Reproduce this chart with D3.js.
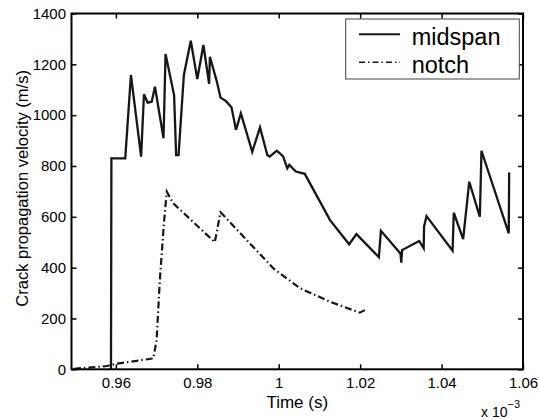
<!DOCTYPE html>
<html>
<head>
<meta charset="utf-8">
<script src="https://cdn.jsdelivr.net/npm/d3@7"></script>
<style>
  html, body { margin: 0; padding: 0; background: #fff; }
  svg { display: block; font-family: "Liberation Sans", Arial, Helvetica, sans-serif; }
</style>
</head>
<body>
<svg id="chart" width="539" height="419"></svg>
<script>
// Time values in units of 1e-3 s
const midspanTime = [0.9588,0.9589,0.9623,0.9637,0.9662,0.9669,0.9678,0.9688,0.9696,0.9717,0.9722,0.9743,0.9748,0.9754,0.9767,0.9784,0.9800,0.9815,0.9829,0.9831,0.9848,0.9857,0.9870,0.9884,0.9895,0.9907,0.9935,0.9954,0.9972,0.9978,0.9995,1.0003,1.0011,1.0021,1.0026,1.0042,1.0064,1.0126,1.0173,1.0191,1.0246,1.0251,1.0299,1.0301,1.0303,1.0345,1.0356,1.0357,1.0363,1.0427,1.0430,1.0453,1.0468,1.0494,1.0498,1.0565,1.0566];
const midspanVel  = [0,830,830,1158,837,1082,1049,1053,1112,909,1241,1079,843,843,1158,1293,1142,1276,1123,1230,1132,1069,1056,1031,942,1007,856,952,843,837,860,850,837,791,804,778,769,587,492,532,441,545,456,420,469,505,476,561,603,467,616,512,738,600,860,535,774];
const notchTime = [0.9497,0.9578,0.9598,0.9692,0.9700,0.9708,0.9718,0.9725,0.9741,0.9843,0.9857,0.9987,1.0052,1.0126,1.0199,1.0212];
const notchVel  = [2,13,21,43,115,351,575,699,653,500,618,397,319,266,223,233];
const xTicks = [0.96,0.98,1.00,1.02,1.04,1.06];
const xTickLabels = ["0.96","0.98","1","1.02","1.04","1.06"];
const yTicks = [0,200,400,600,800,1000,1200,1400];
const seriesNames = ["midspan","notch"];

const L = 71.5, R = 523, T = 13.5, B = 369.3;
const svg = d3.select("#chart");
const x = d3.scaleLinear().domain([0.9491, 1.06]).range([L, R]);
const y = d3.scaleLinear().domain([0, 1400]).range([B, T]);
const ink = "#161616";

const line = d3.line().x(d => x(d[0])).y(d => y(d[1]));
const midData = midspanTime.map((t, i) => [t, midspanVel[i]]);
const notchData = notchTime.map((t, i) => [t, notchVel[i]]);

svg.append("path").datum(notchData).attr("d", line)
  .attr("fill", "none").attr("stroke", ink).attr("stroke-width", 2.2)
  .attr("stroke-dasharray", "7,3,1.5,3");
svg.append("path").datum(midData).attr("d", line)
  .attr("fill", "none").attr("stroke", ink).attr("stroke-width", 2.3)
  .attr("stroke-linejoin", "miter");

// axes
function styleAxis(g) {
  g.select(".domain").remove();
  g.selectAll(".tick line").attr("stroke", "#000").attr("stroke-width", 1.5);
  g.selectAll("text").attr("fill", "#000").style("font-size", "15px");
}
svg.append("g").attr("transform", `translate(0,${B})`)
  .call(d3.axisBottom(x).tickValues(xTicks).tickFormat((d, i) => xTickLabels[i]).tickSize(-5).tickPadding(8))
  .call(styleAxis);
svg.append("g").attr("transform", `translate(0,${T})`)
  .call(d3.axisTop(x).tickValues(xTicks).tickFormat("").tickSize(-5))
  .call(styleAxis);
svg.append("g").attr("transform", `translate(${L},0)`)
  .call(d3.axisLeft(y).tickValues(yTicks).tickFormat(d3.format("d")).tickSize(-5).tickPadding(5.5))
  .call(styleAxis);
svg.append("g").attr("transform", `translate(${R},0)`)
  .call(d3.axisRight(y).tickValues(yTicks).tickFormat("").tickSize(-5))
  .call(styleAxis);

svg.append("rect").attr("x", L).attr("y", T).attr("width", R - L).attr("height", B - T)
  .attr("fill", "none").attr("stroke", "#000").attr("stroke-width", 2);

// labels
svg.append("text").attr("x", (L + R) / 2).attr("y", 408).attr("text-anchor", "middle")
  .style("font-size", "17px").attr("fill", "#000").text("Time (s)");
svg.append("text").attr("transform", `translate(28,${(T + B) / 2 - 3}) rotate(-90)`)
  .attr("text-anchor", "middle").style("font-size", "16.5px").attr("fill", "#000")
  .text("Crack propagation velocity (m/s)");
const mult = svg.append("text").attr("x", 481).attr("y", 417).style("font-size", "14px").attr("fill", "#000");
mult.append("tspan").text("x 10");
mult.append("tspan").attr("dy", -9).style("font-size", "11px").text("\u22123");

// legend
const lg = svg.append("g");
lg.append("rect").attr("x", 345.7).attr("y", 19).attr("width", 173.6).attr("height", 60)
  .attr("fill", "#fff").attr("stroke", "#444").attr("stroke-width", 1);
const rows = [34.3, 62.3];
seriesNames.forEach((name, i) => {
  lg.append("line").attr("x1", 359).attr("x2", 400).attr("y1", rows[i]).attr("y2", rows[i])
    .attr("stroke", ink).attr("stroke-width", i === 0 ? 2 : 1.5)
    .attr("stroke-dasharray", i === 0 ? null : "6,3,1.5,3");
  lg.append("text").attr("x", 411.7).attr("y", rows[i] + 10.5)
    .style("font-size", "23.5px").attr("fill", "#000").text(name);
});
</script>
</body>
</html>
